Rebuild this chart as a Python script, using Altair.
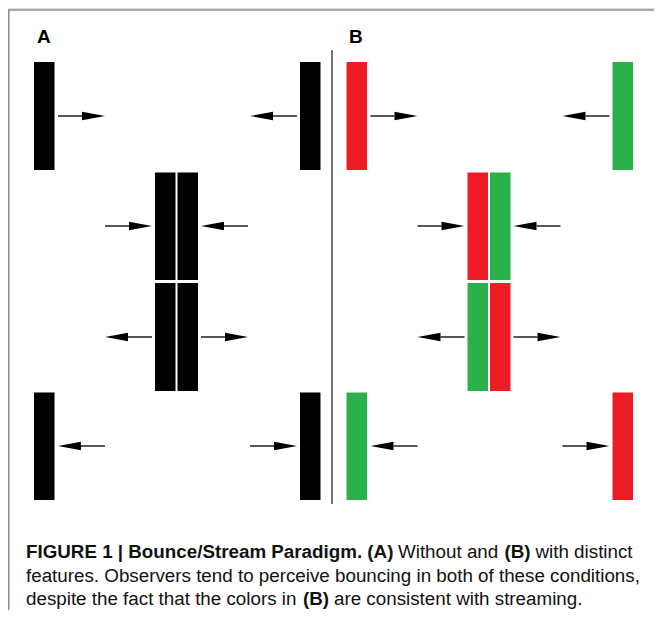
import altair as alt
import pandas as pd

# ---------------- data (page pixel coordinates of the diagram) ----------------
PANEL_SHIFT = 312.5

bar_left = [34, 300, 155, 177.5, 155, 177.5, 34, 300]
bar_top = [62, 62, 172.5, 172.5, 283, 283, 392.5, 392.5]
bar_bottom = [170, 170, 280, 280, 391, 391, 500, 500]
bar_width = 20.5
colors_a = ["#000000"] * 8
colors_b = ["#ED1C24", "#2BB14B", "#ED1C24", "#2BB14B",
            "#2BB14B", "#ED1C24", "#2BB14B", "#ED1C24"]

arrow_tail = [58, 297, 105, 248, 152, 201, 105, 250]
arrow_tip = [105, 250, 152, 201, 105, 248, 58, 297]
arrow_y = [116, 116, 226, 226, 337, 337, 446, 446]
HEAD_LEN = 23

panel_labels = ["A", "B"]
panel_label_x = [37, 349]
panel_label_y = [43, 43]

cap_text = [
    "FIGURE 1 | Bounce/Stream Paradigm. (A)", "Without and", "(B)", "with distinct",
    "features. Observers tend to perceive bouncing in both of these conditions,",
    "despite the fact that the colors in", "(B)", "are consistent with streaming.",
]
cap_x = [26, 398, 504.5, 535.5, 26, 26, 303, 334]
cap_y = [558, 558, 558, 558, 582, 605, 605, 605]
cap_bold = [True, False, True, False, False, False, True, False]

# ---------------- tables ----------------
bars = pd.DataFrame({
    "x0": bar_left + [v + PANEL_SHIFT for v in bar_left],
    "y0": bar_top + bar_top,
    "y1": bar_bottom + bar_bottom,
    "color": colors_a + colors_b,
})
bars["x1"] = bars["x0"] + bar_width

arr = pd.DataFrame({
    "tail": arrow_tail + [v + PANEL_SHIFT for v in arrow_tail],
    "tip": arrow_tip + [v + PANEL_SHIFT for v in arrow_tip],
    "y": arrow_y + arrow_y,
})
arr["dir"] = (arr["tip"] > arr["tail"]).map({True: "right", False: "left"})
sign = arr["dir"].map({"right": 1, "left": -1})
arr["base"] = arr["tip"] - sign * HEAD_LEN
arr["hx"] = arr["tip"] - sign * HEAD_LEN / 2

labels = pd.DataFrame({"t": panel_labels, "x": panel_label_x, "y": panel_label_y})
caption = pd.DataFrame({"t": cap_text, "x": cap_x, "y": cap_y, "bold": cap_bold})

W, H = 646, 602
xs = alt.Scale(domain=[8, 8 + W], nice=False, zero=False)
ys = alt.Scale(domain=[8, 8 + H], nice=False, zero=False, reverse=True)
X = lambda f: alt.X(f, type="quantitative", scale=xs, axis=None)
Y = lambda f: alt.Y(f, type="quantitative", scale=ys, axis=None)

border_top = alt.Chart(pd.DataFrame({"x": [8.0], "x2": [8.0 + W], "y": [10.0]})).mark_rule(
    color="#8a8a8a", strokeWidth=1.5).encode(x=X("x"), x2="x2", y=Y("y"))
border_left = alt.Chart(pd.DataFrame({"x": [8.8], "y": [10.0], "y2": [8.0 + H]})).mark_rule(
    color="#8a8a8a", strokeWidth=1.5).encode(x=X("x"), y=Y("y"), y2="y2")
divider = alt.Chart(pd.DataFrame({"x": [332.0], "y": [50.0], "y2": [504.0]})).mark_rule(
    color="#444444", strokeWidth=1.5).encode(x=X("x"), y=Y("y"), y2="y2")

rects = alt.Chart(bars).mark_rect().encode(
    x=X("x0"), x2="x1", y=Y("y0"), y2="y1",
    color=alt.Color("color:N", scale=None))

shafts = alt.Chart(arr).mark_rule(color="#111111", strokeWidth=1.4).encode(
    x=X("tail"), x2="base", y=Y("y"))

heads_r = alt.Chart(arr).transform_filter(alt.datum.dir == "right").mark_point(
    shape="M-1,-0.36L1,0L-1,0.36Z", filled=True, size=HEAD_LEN ** 2,
    color="#000000", opacity=1, strokeWidth=0).encode(x=X("hx"), y=Y("y"))
heads_l = alt.Chart(arr).transform_filter(alt.datum.dir == "left").mark_point(
    shape="M1,-0.36L-1,0L1,0.36Z", filled=True, size=HEAD_LEN ** 2,
    color="#000000", opacity=1, strokeWidth=0).encode(x=X("hx"), y=Y("y"))

label_marks = alt.Chart(labels).mark_text(
    font="Liberation Sans", fontSize=19, fontWeight="bold", align="left",
    baseline="alphabetic", color="#000000").encode(x=X("x"), y=Y("y"), text="t:N")

FONT = "Liberation Sans"
FS = 18.8
cap_bold_marks = alt.Chart(caption).transform_filter(alt.datum.bold).mark_text(
    font=FONT, fontSize=FS, fontWeight="bold", align="left", baseline="alphabetic",
    color="#111111").encode(x=X("x"), y=Y("y"), text="t:N")
cap_norm_marks = alt.Chart(caption).transform_filter(~alt.datum.bold).mark_text(
    font=FONT, fontSize=FS, fontWeight="normal", align="left", baseline="alphabetic",
    color="#111111").encode(x=X("x"), y=Y("y"), text="t:N")

chart = alt.layer(
    border_top, border_left, divider, rects, shafts, heads_r, heads_l,
    label_marks, cap_bold_marks, cap_norm_marks,
).properties(
    width=W, height=H, padding=0, autosize=alt.AutoSizeParams(type="none"),
).configure_view(stroke=None).configure(background="#ffffff")

chart.save("out.html", embed_options={"renderer": "svg", "actions": False})
